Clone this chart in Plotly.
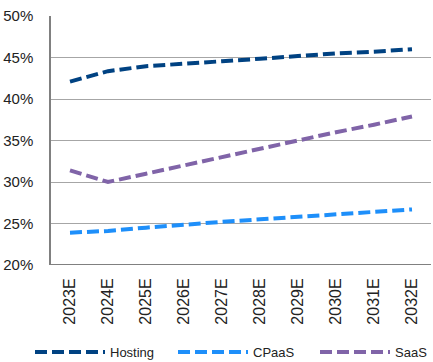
import plotly.graph_objects as go

years = ["2023E", "2024E", "2025E", "2026E", "2027E", "2028E", "2029E", "2030E", "2031E", "2032E"]
hosting = [42.1, 43.35, 43.95, 44.3, 44.55, 44.85, 45.2, 45.5, 45.7, 46.0]
cpaas = [23.9, 24.1, 24.5, 24.9, 25.2, 25.5, 25.8, 26.1, 26.4, 26.7]
saas = [31.4, 30.0, 31.0, 32.0, 33.0, 34.1, 35.0, 36.0, 36.9, 37.9]

series = [
    ("Hosting", hosting, "#004282", "legend"),
    ("CPaaS", cpaas, "#1E8FFA", "legend2"),
    ("SaaS", saas, "#8064A8", "legend3"),
]

fig = go.Figure()
for name, vals, color, lg in series:
    fig.add_trace(go.Scatter(
        x=years, y=[v / 100 for v in vals], name=name, mode="lines",
        line=dict(color=color, width=4, dash="12px,5px"), legend=lg,
    ))

font = "Liberation Sans, Arial, sans-serif"


def legend_at(xpx):
    return dict(orientation="h", xref="container", x=xpx / 433, xanchor="left",
                yref="container", y=10 / 362, yanchor="middle",
                font=dict(size=13, family=font, color="#222222"),
                itemwidth=70, borderwidth=0, bgcolor="rgba(0,0,0,0)")


fig.update_layout(
    width=433, height=362,
    margin=dict(l=51, r=2, t=16, b=97),
    paper_bgcolor="white", plot_bgcolor="white",
    font=dict(family=font, color="#222222"),
    showlegend=True,
    legend=legend_at(30),
    legend2=legend_at(173),
    legend3=legend_at(315),
    xaxis=dict(
        type="category", range=[-0.5, 9.5], tickangle=-90,
        tickfont=dict(size=16, family=font, color="#222222"),
        showgrid=False, showline=False, zeroline=False,
        ticks="outside", ticklen=6, tickcolor="rgba(0,0,0,0)",
    ),
    yaxis=dict(
        range=[0.2, 0.5], dtick=0.05, tickformat=".0%",
        tickfont=dict(size=15, family=font, color="#222222"),
        showgrid=True, gridcolor="#A6A6A6", gridwidth=1,
        showline=True, linecolor="#808080", linewidth=1.5,
        zeroline=False,
        ticks="outside", ticklen=13, tickcolor="rgba(0,0,0,0)",
    ),
)
fig.add_shape(type="line", xref="paper", yref="y", x0=0, x1=1, y0=0.2, y1=0.2,
              line=dict(color="#808080", width=2), layer="above")

fig.write_html("out.html")
